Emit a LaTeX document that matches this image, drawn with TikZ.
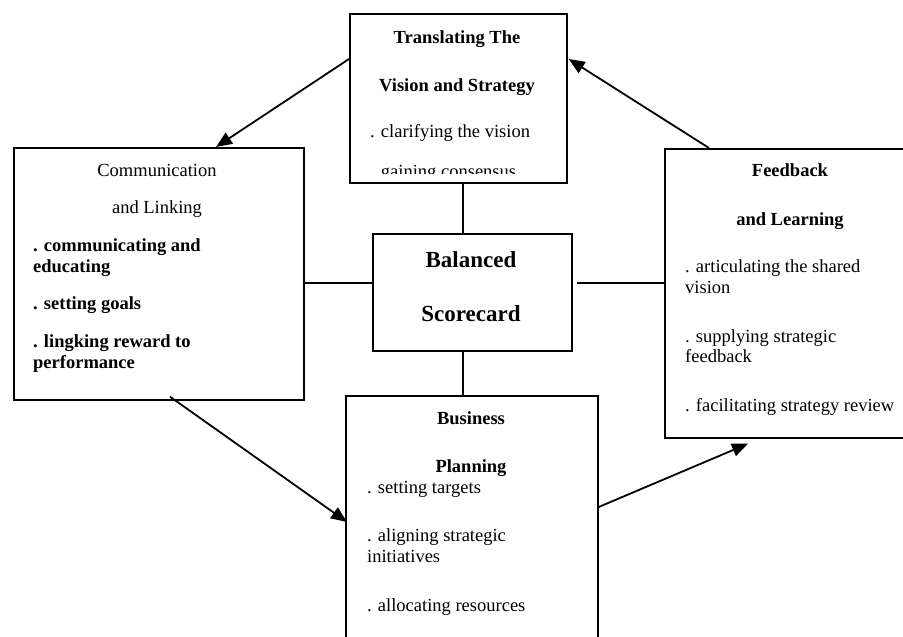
\documentclass[tikz,border=0pt]{standalone}
\usepackage{fontspec}
\setmainfont{Liberation Serif}
\usetikzlibrary{arrows.meta,calc}
\tikzset{
  box/.style={draw=black, line width=1.7pt, inner sep=0pt, anchor=north west},
  txt/.style={inner sep=0pt, font=\fontsize{18.5}{21.5}\selectfont},
  btxt/.style={inner sep=0pt, font=\fontsize{18.5}{21.5}\selectfont\bfseries},
  bigtxt/.style={inner sep=0pt, font=\fontsize{23}{26}\selectfont\bfseries},
  link/.style={draw=black, line width=1.7pt},
  arr/.style={draw=black, line width=1.8pt, -{Triangle[length=16pt,width=13pt]}}
}
\begin{document}
\begin{tikzpicture}[x=1pt,y=-1pt]
\clip (0,0) rectangle (903,637);
\fill[white] (0,0) rectangle (903,637);
% boxes
\node[box, minimum width=217pt, minimum height=169pt] (trans) at (349,13) {};
\node[box, minimum width=290pt, minimum height=252pt] (comm) at (13,147) {};
\node[box, minimum width=199pt, minimum height=117pt] (bal) at (372,233) {};
\node[box, minimum width=252pt, minimum height=260pt] (bus) at (345,395) {};
\node[box, minimum width=244pt, minimum height=289pt] (fb) at (664,148) {};
% translating text (clipped)
\begin{scope}
\clip (349,13) rectangle (566,173);
\node[btxt, anchor=base] (t1) at (457,43) {Translating The};
\node[btxt, anchor=base] (t2) at (457,91) {Vision and Strategy};
\node[txt, anchor=base west] (t3) at (370,137) {. clarifying the vision};
\node[txt, anchor=base west] (t4) at (370,177) {. gaining consensus};
\end{scope}
% communication text
\node[txt, anchor=base] (c1) at (157,176) {Communication};
\node[txt, anchor=base] (c2) at (157,213) {and Linking};
\node[btxt, anchor=base west] (c3) at (33,251) {. communicating and};
\node[btxt, anchor=base west] (c4) at (33,272) {educating};
\node[btxt, anchor=base west] (c5) at (33,309) {. setting goals};
\node[btxt, anchor=base west] (c6) at (33,347) {. lingking reward to};
\node[btxt, anchor=base west] (c7) at (33,368) {performance};
% balanced scorecard
\node[bigtxt, anchor=base] (b1) at (471,267) {Balanced};
\node[bigtxt, anchor=base] (b2) at (471,321) {Scorecard};
% business planning
\node[btxt, anchor=base] (p1) at (471,424) {Business};
\node[btxt, anchor=base] (p2) at (471,472) {Planning};
\node[txt, anchor=base west] (p3) at (367,493) {. setting targets};
\node[txt, anchor=base west] (p4) at (367,541) {. aligning strategic};
\node[txt, anchor=base west] (p5) at (367,562) {initiatives};
\node[txt, anchor=base west] (p6) at (367,611) {. allocating resources};
% feedback
\node[btxt, anchor=base] (f1) at (790,176) {Feedback};
\node[btxt, anchor=base] (f2) at (790,225) {and Learning};
\node[txt, anchor=base west] (f3) at (685,272) {. articulating the shared};
\node[txt, anchor=base west] (f4) at (685,293) {vision};
\node[txt, anchor=base west] (f5) at (685,342) {. supplying strategic};
\node[txt, anchor=base west] (f6) at (685,362) {feedback};
\node[txt, anchor=base west] (f7) at (685,411) {. facilitating strategy review};
% plain links
\draw[link] ($(trans.south west)+(114,0)$) -- ($(bal.north west)+(91,0)$);
\draw[link] ($(bal.south west)+(91,0)$) -- ($(bus.north west)+(118,0)$);
\draw[link] ($(comm.north east)+(0,136)$) -- ($(bal.north west)+(0,50)$);
\draw[link] ($(bal.north east)+(4,50)$) -- ($(fb.north west)+(0,135)$);
% arrows
\draw[arr] ($(trans.north west)+(0,46)$) -- ($(comm.north west)+(203,0)$);
\draw[arr] ($(fb.north west)+(45,0)$) -- ($(trans.north east)+(1,46)$);
\draw[arr] ($(comm.south west)+(157,-4)$) -- ($(bus.north west)+(2,127)$);
\draw[arr] ($(bus.north east)+(0,112)$) -- ($(fb.south west)+(84,5)$);
\end{tikzpicture}
\end{document}
